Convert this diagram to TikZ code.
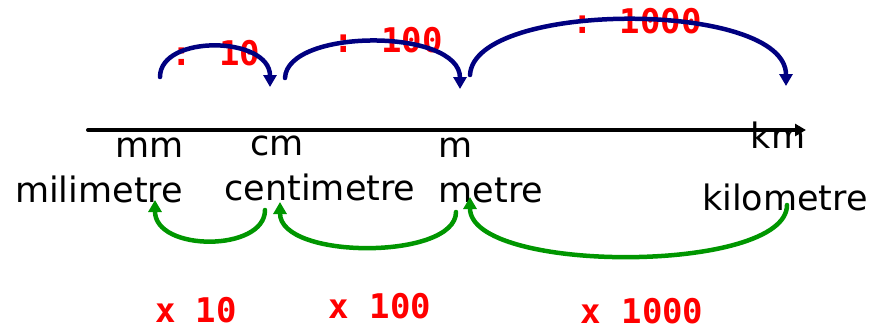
\documentclass[tikz,border=0pt]{standalone}
\usepackage{fontspec}
\setmainfont{DejaVu Sans}
\newfontfamily\monofont{DejaVu Sans Mono}
\usetikzlibrary{arrows.meta}
\definecolor{UNIT-NAVY}{RGB}{0, 0, 128}
\definecolor{UNIT-GREEN}{RGB}{0, 150, 0}
\definecolor{UNIT-RED}{RGB}{255, 0, 0}

\begin{document}
\begin{tikzpicture}[x=1pt, y=-1pt,
    unit/.style={anchor=base, inner sep=0pt, font=\fontsize{35}{40}\selectfont},
    factor/.style={anchor=base, inner sep=0pt, text depth=0pt, text=UNIT-RED,
      font=\monofont\bfseries\fontsize{34}{38}\selectfont},
    divarrow/.style={-{Triangle[length=12pt,width=13pt]}, UNIT-NAVY, line width=4.5pt, line cap=round},
    mularrow/.style={-{Triangle[length=12pt,width=13pt]}, UNIT-GREEN, line width=4.5pt, line cap=round}]
  \useasboundingbox (0,0) rectangle (875,332);

  % Factors (red)
  \node[factor] (div10) at (216,65) {: 10};
  \node[factor] (div100) at (388,52) {: 100};
  \node[factor] (div1000) at (637,33) {: 1000};
  \node[factor] (mul10) at (196,322) {x 10};
  \node[factor] (mul100) at (380,318) {x 100};
  \node[factor] (mul1000) at (642,323) {x 1000};

  % Unit symbols and names
  \node[unit] (mm) at (150,157) {mm};
  \node[unit] (cm) at (277,155) {cm};
  \node[unit] (m) at (456,157) {m};
  \node[unit] (km) at (778,148) {km};
  \node[unit] (milimetre) at (99,202) {milimetre};
  \node[unit] (centimetre) at (320,200) {centimetre};
  \node[unit] (metre) at (491,202) {metre};
  \node[unit] (kilometre) at (785,210) {kilometre};

  % Axis
  \coordinate (axis-start) at (88,130);
  \coordinate (axis-end) at (806,130);
  \draw[-{Triangle[length=11pt,width=12pt]}, line width=4pt, line cap=round] (axis-start) -- (axis-end);

  % Division arrows (above)
  \coordinate (d1) at (160,77);
  \coordinate (d2) at (270,87);
  \coordinate (d3) at (285,78);
  \coordinate (d4) at (460,89);
  \coordinate (d5) at (470,75);
  \coordinate (d6) at (786,86);
  \draw[divarrow] (d1) .. controls (160,34) and (270,36) .. (d2);
  \draw[divarrow] (d3) .. controls (287,28) and (460,28) .. (d4);
  \draw[divarrow] (d5) .. controls (474,0) and (786,0) .. (d6);

  % Multiplication arrows (below)
  \coordinate (m1) at (265,210);
  \coordinate (m2) at (155,200);
  \coordinate (m3) at (456,212);
  \coordinate (m4) at (280,202);
  \coordinate (m5) at (787,205);
  \coordinate (m6) at (470,197);
  \draw[mularrow] (m1) .. controls (265,252) and (155,252) .. (m2);
  \draw[mularrow] (m3) .. controls (456,260) and (280,260) .. (m4);
  \draw[mularrow] (m5) .. controls (787,274) and (470,274) .. (m6);
\end{tikzpicture}
\end{document}
